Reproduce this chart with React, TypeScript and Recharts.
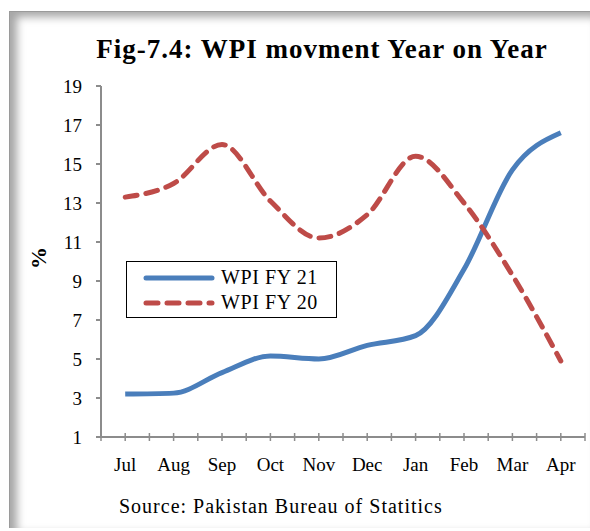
import { Line, LineChart, XAxis, YAxis } from "recharts";

const months = ["Jul", "Aug", "Sep", "Oct", "Nov", "Dec", "Jan", "Feb", "Mar", "Apr"];
const wpiFy21 = [3.2, 3.25, 4.3, 5.15, 5.0, 5.7, 6.2, 9.6, 14.7, 16.6];
const wpiFy20 = [13.3, 14.0, 16.0, 13.1, 11.2, 12.4, 15.4, 13.0, 9.3, 4.9];
const yTicks = [1, 3, 5, 7, 9, 11, 13, 15, 17, 19];

const data = months.map((m, i) => ({ month: m, fy21: wpiFy21[i], fy20: wpiFy20[i] }));

const serif = "'Liberation Serif', 'DejaVu Serif', serif";
const axisColor = "#8c8c8c";
const blue = "#4a7ebb";
const red = "#be4b48";

const W = 590;
const H = 531;
const margin = { top: 86, right: 5, bottom: 64, left: 0 };
const band = (W - 101 - margin.right) / months.length;

function MonthTick(props: any) {
  const { x, y, payload, index } = props;
  const half = band / 2;
  return (
    <g>
      <line x1={x} x2={x} y1={y - 4} y2={y + 4} stroke={axisColor} strokeWidth={1.5} />
      <line x1={x - half} x2={x - half} y1={y - 4} y2={y + 4} stroke={axisColor} strokeWidth={1.5} />
      {index === months.length - 1 && (
        <line x1={x + half} x2={x + half} y1={y - 4} y2={y + 4} stroke={axisColor} strokeWidth={1.5} />
      )}
      <text x={x} y={y + 34} textAnchor="middle" fill="#000" fontSize={19} fontFamily={serif}>
        {payload.value}
      </text>
    </g>
  );
}

function LegendBox() {
  const rows = [
    { label: "WPI FY 21", color: blue, dash: undefined },
    { label: "WPI FY 20", color: red, dash: "12 9" },
  ];
  return (
    <div
      style={{
        position: "absolute",
        left: 126,
        top: 261,
        border: "1.5px solid #000",
        background: "#fff",
        width: 211,
        height: 57,
        boxSizing: "border-box",
        padding: "3px 0 0 16px",
      }}
    >
      {rows.map((r) => (
        <div key={r.label} style={{ display: "flex", alignItems: "center", height: 25 }}>
          <svg width={72} height={10}>
            <line
              x1={3}
              x2={69}
              y1={5}
              y2={5}
              stroke={r.color}
              strokeWidth={5}
              strokeLinecap="round"
              strokeDasharray={r.dash}
            />
          </svg>
          <span style={{ fontFamily: serif, fontSize: 20, letterSpacing: 0.6, marginLeft: 6, color: "#000" }}>
            {r.label}
          </span>
        </div>
      ))}
    </div>
  );
}

export default function App() {
  return (
    <div style={{ position: "absolute", left: 0, top: 0, width: W, height: H, background: "#fff" }}>
      <div
        style={{
          position: "absolute",
          left: 9,
          top: 11,
          width: 580,
          height: 516,
          borderLeft: "1px solid #9a9a9a",
          borderTop: "1px solid #9a9a9a",
          boxShadow: "inset 7px 5px 9px rgba(0,0,0,0.35)",
        }}
      />
      <div
        style={{
          position: "absolute",
          left: 0,
          width: 644,
          top: 34,
          textAlign: "center",
          fontFamily: serif,
          fontWeight: "bold",
          fontSize: 27,
          letterSpacing: 1,
          color: "#000",
        }}
      >
        Fig-7.4: WPI movment Year on Year
      </div>
      <div
        style={{
          position: "absolute",
          left: 28,
          top: 245,
          fontFamily: serif,
          fontWeight: "bold",
          fontSize: 22,
          transform: "rotate(-90deg)",
          color: "#000",
        }}
      >
        %
      </div>
      <div
        style={{
          position: "absolute",
          left: 119,
          top: 495,
          fontFamily: serif,
          fontSize: 20,
          letterSpacing: 1,
          color: "#000",
        }}
      >
        Source: Pakistan Bureau of Statitics
      </div>
      <div style={{ position: "absolute", left: 0, top: 0 }}>
        <LineChart width={W} height={H} data={data} margin={margin}>
          <XAxis
            dataKey="month"
            stroke={axisColor}
            strokeWidth={2}
            tickLine={false}
            tickSize={0}
            tickMargin={0}
            tick={<MonthTick />}
            interval={0}
            height={30}
            padding={{ left: band / 2, right: band / 2 }}
          />
          <YAxis
            domain={[1, 19]}
            ticks={yTicks}
            width={101}
            stroke={axisColor}
            strokeWidth={2}
            tickSize={5}
            tickMargin={14}
            tick={{ fill: "#000", fontSize: 19, fontFamily: serif }}
            interval={0}
          />
          <Line
            type="monotone"
            dataKey="fy21"
            stroke={blue}
            strokeWidth={5}
            dot={false}
            isAnimationActive={false}
          />
          <Line
            type="monotone"
            dataKey="fy20"
            stroke={red}
            strokeWidth={5}
            strokeDasharray="12 9"
            strokeLinecap="round"
            dot={false}
            isAnimationActive={false}
          />
        </LineChart>
      </div>
      <LegendBox />
    </div>
  );
}
